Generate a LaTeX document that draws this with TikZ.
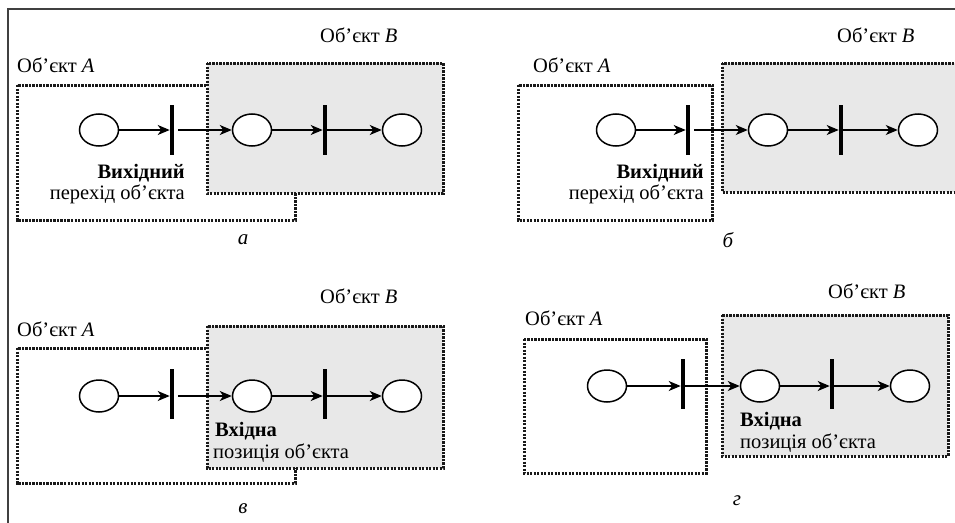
\documentclass[tikz,border=0pt]{standalone}
\usepackage{fontspec}
\setmainfont{Liberation Serif}
\usetikzlibrary{shapes.geometric,arrows.meta}
\tikzset{
  frameline/.style={draw=black!75,line width=1.6pt},
  objA/.style={draw=black!90,line width=3pt,dash pattern=on 2.4pt off 1.1pt},
  objB/.style={objA,fill=black!9},
  place/.style={ellipse,draw,fill=white,line width=1.5pt,minimum width=39pt,minimum height=32pt,inner sep=0pt},
  trans/.style={rectangle,fill=black,minimum width=4.2pt,minimum height=50pt,inner sep=0pt},
  flow/.style={-{Stealth[length=12pt,width=10pt,inset=3.5pt]},line width=1.2pt},
  lbl/.style={inner sep=0pt,font=\fontsize{20.5}{23}\selectfont},
  captxt/.style={inner sep=0pt,font=\fontsize{21}{23}\selectfont\itshape}
}
\begin{document}
\begin{tikzpicture}[x=1pt,y=-1pt]
\useasboundingbox (0,0) rectangle (955,522);
\clip (0,0) rectangle (955,522);
\draw[frameline] (8,530) -- (8,9) -- (960,9);

% ---------- panel a ----------
\draw[objA] (17,85) rectangle (295,220);
\draw[objB] (207,63) rectangle (443,193);
\node[lbl,anchor=west] (aA) at (17,65) {Об’єкт \textit{A}};
\node[lbl,anchor=west] (aB) at (320,35) {Об’єкт \textit{B}};
\node[place] (aP1) at (99,130) {};
\node[trans] (aT1) at (172,130) {};
\node[place] (aP2) at (252,130) {};
\node[trans] (aT2) at (325,130) {};
\node[place] (aP3) at (402,130) {};
\draw[flow] (aP1) -- (aT1.west);
\draw[flow] ([xshift=4pt]aT1.east) -- (aP2);
\draw[flow] (aP2) -- (aT2.west);
\draw[flow] (aT2) -- (aP3);
\node[lbl,anchor=east] (aL1) at (185,173) {\textbf{Вихідний}};
\node[lbl,anchor=east] (aL2) at (185,194) {перехід об’єкта};
\node[captxt] (aC) at (243,240) {а};

% ---------- panel b ----------
\draw[objA] (518,85) rectangle (712,220);
\draw[objB] (722,63) rectangle (975,192);
\node[lbl,anchor=west] (bA) at (533,65) {Об’єкт \textit{A}};
\node[lbl,anchor=west] (bB) at (837,35) {Об’єкт \textit{B}};
\node[place] (bP1) at (616,130) {};
\node[trans] (bT1) at (688,130) {};
\node[place] (bP2) at (768,130) {};
\node[trans] (bT2) at (841,130) {};
\node[place] (bP3) at (918,130) {};
\draw[flow] (bP1) -- (bT1.west);
\draw[flow] ([xshift=4pt]bT1.east) -- (bP2);
\draw[flow] (bP2) -- (bT2.west);
\draw[flow] (bT2) -- (bP3);
\node[lbl,anchor=east] (bL1) at (704,173) {\textbf{Вихідний}};
\node[lbl,anchor=east] (bL2) at (704,194) {перехід об’єкта};
\node[captxt] (bC) at (728,240) {б};

% ---------- panel c ----------
\draw[objA] (17,348) rectangle (295,483);
\draw[objB] (207,326) rectangle (443,468);
\node[lbl,anchor=west] (cA) at (17,329) {Об’єкт \textit{A}};
\node[lbl,anchor=west] (cB) at (320,296) {Об’єкт \textit{B}};
\node[place] (cP1) at (99,396) {};
\node[trans] (cT1) at (172,394) {};
\node[place] (cP2) at (252,396) {};
\node[trans] (cT2) at (325,394) {};
\node[place] (cP3) at (402,396) {};
\draw[flow] (cP1) -- (cP1 -| cT1.west);
\draw[flow] ([xshift=4pt]cT1.east |- cP1) -- (cP2);
\draw[flow] (cP2) -- (cP2 -| cT2.west);
\draw[flow] (cP2 -| cT2) -- (cP3);
\node[lbl,anchor=west] (cL1) at (215,431) {\textbf{Вхідна}};
\node[lbl,anchor=west] (cL2) at (213,453) {позиція об’єкта};
\node[captxt] (cC) at (243,509) {в};

% ---------- panel d ----------
\draw[objA] (524,339) rectangle (706,473);
\draw[objB] (722,315) rectangle (948,456);
\node[lbl,anchor=west] (dA) at (525,318) {Об’єкт \textit{A}};
\node[lbl,anchor=west] (dB) at (828,291) {Об’єкт \textit{B}};
\node[place] (dP1) at (607,386) {};
\node[trans] (dT1) at (683,384) {};
\node[place] (dP2) at (760,386) {};
\node[trans] (dT2) at (832,384) {};
\node[place] (dP3) at (910,386) {};
\draw[flow] (dP1) -- (dP1 -| dT1.west);
\draw[flow] (dP1 -| dT1) -- (dP2);
\draw[flow] (dP2) -- (dP2 -| dT2.west);
\draw[flow] (dP2 -| dT2) -- (dP3);
\node[lbl,anchor=west] (dL1) at (740,421) {\textbf{Вхідна}};
\node[lbl,anchor=west] (dL2) at (740,443) {позиція об’єкта};
\node[captxt] (dC) at (737,501) {г};
\end{tikzpicture}
\end{document}
